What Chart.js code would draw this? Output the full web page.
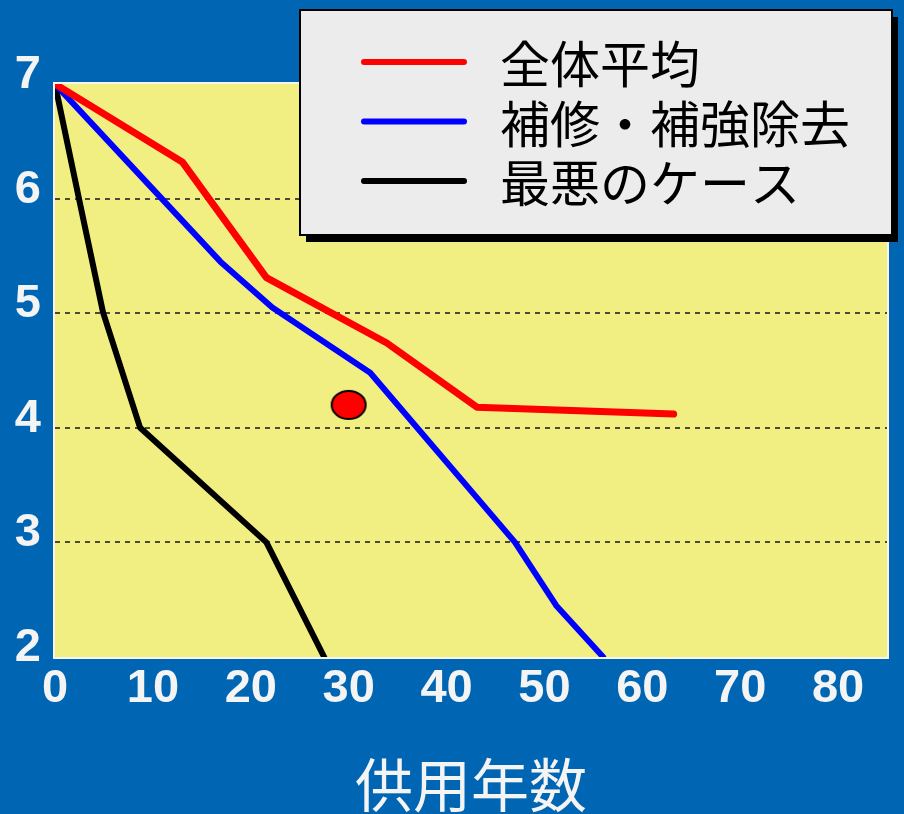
<!DOCTYPE html>
<html>
<head>
<meta charset="utf-8">
<script src="https://cdn.jsdelivr.net/npm/chart.js@4.4.1/dist/chart.umd.min.js"></script>
<style>
  html, body { margin: 0; padding: 0; background: #0066b3; }
  #wrap { width: 904px; height: 814px; }
</style>
</head>
<body>
<div id="wrap"><canvas id="c" width="904" height="814"></canvas></div>
<script>
// 供用年数 (years in service) vs. rating
const seriesNames = ['全体平均', '補修・補強除去', '最悪のケース'];

const avgYears = [0, 13.0, 21.6, 33.9, 43.1, 63.2];
const avgValues = [7, 6.32, 5.31, 4.74, 4.18, 4.12];

const repairYears = [0, 16.9, 22.2, 32.2, 47.0, 51.2, 56.0];
const repairValues = [7, 5.45, 5.05, 4.48, 3.0, 2.45, 2.0];

const worstYears = [0, 2.4, 4.9, 8.7, 21.6, 27.5];
const worstValues = [7, 6.02, 5.01, 4.0, 3.0, 2.0];

const markerYear = [30];
const markerValue = [4.2];

const xTicks = [0, 10, 20, 30, 40, 50, 60, 70, 80];
const yTicks = [2, 3, 4, 5, 6, 7];
const xTitle = '供用年数';

const toPoints = (xs, ys) => xs.map((x, i) => ({ x: x, y: ys[i] }));

// elliptical red marker with a black outline
const marker = document.createElement('canvas');
marker.width = 38; marker.height = 32;
(function () {
  const m = marker.getContext('2d');
  m.beginPath();
  m.ellipse(19, 16, 17, 14, 0, 0, Math.PI * 2);
  m.fillStyle = '#ff0000';
  m.fill();
  m.lineWidth = 2;
  m.strokeStyle = '#000000';
  m.stroke();
})();

// page background, yellow plot area and its white frame
const plotBackground = {
  id: 'plotBackground',
  beforeDraw(chart) {
    const { ctx, chartArea: a } = chart;
    ctx.save();
    ctx.fillStyle = '#0066b3';
    ctx.fillRect(0, 0, chart.width, chart.height);
    ctx.fillStyle = '#f2ef82';
    ctx.fillRect(a.left, a.top, a.right - a.left, a.bottom - a.top);
    ctx.restore();
  },
  beforeDatasetsDraw(chart) {
    const { ctx, chartArea: a } = chart;
    ctx.save();
    ctx.strokeStyle = '#f6f6ee';
    ctx.lineWidth = 2;
    ctx.strokeRect(a.left - 1, a.top - 1, a.right - a.left + 2, a.bottom - a.top + 2);
    ctx.restore();
  }
};

// boxed legend with a drop shadow, drawn on top of the plot
const boxLegend = {
  id: 'boxLegend',
  afterDraw(chart) {
    const ctx = chart.ctx;
    const bx = 300, by = 10, bw = 592, bh = 225;
    ctx.save();
    ctx.fillStyle = '#000000';
    ctx.fillRect(bx + 6, by + 7, bw, bh);
    ctx.fillStyle = '#ececec';
    ctx.fillRect(bx, by, bw, bh);
    ctx.lineWidth = 2;
    ctx.strokeStyle = '#000000';
    ctx.strokeRect(bx, by, bw, bh);
    ctx.font = '50px "Noto Sans CJK JP"';
    ctx.textBaseline = 'middle';
    ctx.textAlign = 'left';
    const rows = chart.data.datasets
      .filter(d => d.legendRow !== undefined)
      .sort((p, q) => p.legendRow - q.legendRow);
    rows.forEach((d, i) => {
      const y = 62 + i * 59.5;
      ctx.beginPath();
      ctx.lineCap = 'round';
      ctx.lineWidth = 6;
      ctx.strokeStyle = d.borderColor;
      ctx.moveTo(364, y);
      ctx.lineTo(464, y);
      ctx.stroke();
      ctx.fillStyle = '#000000';
      ctx.fillText(d.label, 500, y + 2);
    });
    ctx.restore();
  }
};

new Chart(document.getElementById('c'), {
  type: 'line',
  data: {
    datasets: [
      {
        label: seriesNames[2], legendRow: 2,
        data: toPoints(worstYears, worstValues),
        borderColor: '#000000', borderWidth: 6, order: 3
      },
      {
        label: seriesNames[1], legendRow: 1,
        data: toPoints(repairYears, repairValues),
        borderColor: '#0000ff', borderWidth: 6, order: 2
      },
      {
        label: seriesNames[0], legendRow: 0,
        data: toPoints(avgYears, avgValues),
        borderColor: '#ff0000', borderWidth: 7, order: 1
      },
      {
        type: 'scatter', label: 'marker',
        data: toPoints(markerYear, markerValue),
        pointStyle: marker, order: 0
      }
    ].map(d => Object.assign({
      fill: false, tension: 0, pointHoverRadius: 0,
      borderJoinStyle: 'round', borderCapStyle: 'round'
    }, d, { pointRadius: d.type === 'scatter' ? 16 : 0 }))
  },
  options: {
    responsive: false,
    devicePixelRatio: 1,
    animation: false,
    events: [],
    layout: { padding: { top: 84, right: 14, bottom: 0, left: 0 } },
    plugins: { legend: { display: false }, tooltip: { enabled: false } },
    scales: {
      x: {
        type: 'linear',
        min: 0, max: 85,
        afterFit(scale) { scale.height = 157; },
        afterBuildTicks(scale) { scale.ticks = xTicks.map(v => ({ value: v })); },
        grid: { display: false, drawTicks: false },
        border: { display: false },
        ticks: {
          color: '#f4f4f4', padding: 4,
          font: { family: '"Liberation Sans", Arial, sans-serif', size: 47, weight: 'bold' }
        },
        title: {
          display: true, text: xTitle, color: '#f4f4f4',
          font: { family: '"Noto Sans CJK JP", sans-serif', size: 58, lineHeight: 1 },
          padding: { top: 0, bottom: 0 }
        }
      },
      y: {
        type: 'linear',
        min: 2, max: 7,
        afterFit(scale) { scale.width = 55; },
        afterBuildTicks(scale) { scale.ticks = yTicks.map(v => ({ value: v })); },
        grid: {
          drawTicks: false,
          lineWidth: 2,
          color: ctx => (ctx.tick && (ctx.tick.value === 2 || ctx.tick.value === 7)) ? 'rgba(0,0,0,0)' : '#4d4b38'
        },
        border: { display: false, dash: [5, 5] },
        ticks: {
          color: '#f4f4f4', padding: 14, labelOffset: -9,
          font: { family: '"Liberation Sans", Arial, sans-serif', size: 47, weight: 'bold' }
        }
      }
    }
  },
  plugins: [plotBackground, boxLegend]
});
</script>
</body>
</html>
